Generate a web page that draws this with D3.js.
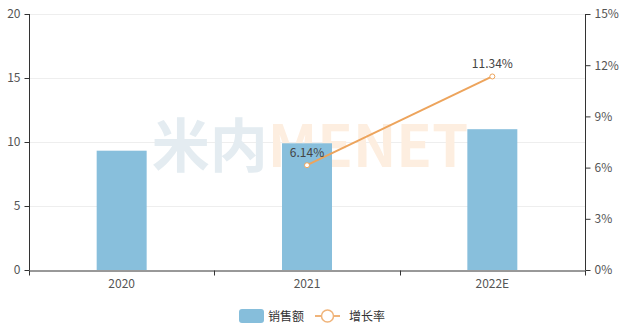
<!DOCTYPE html>
<html>
<head>
<meta charset="utf-8">
<script src="https://cdn.jsdelivr.net/npm/d3@7"></script>
<style>
  body { margin: 0; background: #fff; }
  text { font-family: "Noto Sans CJK SC", "Noto Sans", sans-serif; }
</style>
</head>
<body>
<div id="chart"></div>
<script>
// chart data
var years = ["2020", "2021", "2022E"];
var sales = [9.32, 9.9, 11.0];
var growth = [null, 6.14, 11.34];
var leftTicks = [0, 5, 10, 15, 20];
var rightTicks = [0, 3, 6, 9, 12, 15];

var width = 630, height = 333;
var margin = { top: 14, left: 29, right: 45, bottom: 63 };

var svg = d3.select("#chart").append("svg")
    .attr("width", width)
    .attr("height", height);

var x = d3.scaleBand()
    .domain(years)
    .range([margin.left, width - margin.right]);

var y = d3.scaleLinear()
    .domain([0, 20])
    .range([height - margin.bottom, margin.top]);

var y2 = d3.scaleLinear()
    .domain([0, 15])
    .range([height - margin.bottom, margin.top]);

// grid lines
svg.append("g")
    .selectAll("line")
    .data(leftTicks.filter(d => d > 0))
    .join("line")
    .attr("x1", margin.left)
    .attr("x2", width - margin.right)
    .attr("y1", d => Math.round(y(d)) + 0.5)
    .attr("y2", d => Math.round(y(d)) + 0.5)
    .attr("stroke", "#eeeeee");

// watermark
var wm = svg.append("text")
    .attr("x", 310)
    .attr("y", 167)
    .attr("text-anchor", "middle")
    .attr("font-size", "58px")
    .attr("font-weight", "bold");
wm.append("tspan").attr("fill", "#e4ecf1").text("米内");
wm.append("tspan").attr("fill", "#fdeee0").text("MENET");

// bars
var barW = 50;
svg.selectAll(".bar")
    .data(years)
    .join("rect")
    .attr("class", "bar")
    .attr("x", (d, i) => x(d) + x.bandwidth() / 2 - barW / 2)
    .attr("y", (d, i) => y(sales[i]))
    .attr("width", barW)
    .attr("height", (d, i) => y(0) - y(sales[i]))
    .attr("fill", "#86bedb")
    .attr("fill-opacity", 0.98);

// axes
var axisColor = "#333";
var gl = svg.append("g")
    .attr("transform", "translate(" + (margin.left + 0.5) + ",0)")
    .call(d3.axisLeft(y).tickValues(leftTicks).tickSize(5).tickPadding(4));
var gr = svg.append("g")
    .attr("transform", "translate(" + (width - margin.right + 0.5) + ",0)")
    .call(d3.axisRight(y2).tickValues(rightTicks).tickSize(5).tickPadding(4).tickFormat(d => d + "%"));
var gb = svg.append("g")
    .attr("transform", "translate(0," + (height - margin.bottom + 0.5) + ")")
    .call(d3.axisBottom(x).tickSize(0).tickPadding(9));

// x ticks at band boundaries
gb.selectAll(".bound")
    .data(d3.range(years.length + 1))
    .join("line")
    .attr("class", "bound")
    .attr("x1", i => Math.round(margin.left + i * x.step()) + 0.5)
    .attr("x2", i => Math.round(margin.left + i * x.step()) + 0.5)
    .attr("y1", 0)
    .attr("y2", 5)
    .attr("stroke", axisColor);

[gl, gr, gb].forEach(function (g) {
    g.select(".domain").attr("stroke", axisColor);
    g.selectAll(".tick line").attr("stroke", axisColor);
    g.selectAll(".tick text")
        .attr("fill", "#555")
        .style("font-size", "12px")
        .style("font-family", "'Noto Sans CJK SC', sans-serif");
});
gl.select(".domain").attr("d", "M0," + y(20) + "V" + y(0));
gr.select(".domain").attr("d", "M0," + y2(15) + "V" + y2(0));

// growth line
var lineData = years.map((d, i) => ({ year: d, v: growth[i] })).filter(d => d.v != null);
var line = d3.line()
    .x(d => x(d.year) + x.bandwidth() / 2)
    .y(d => y2(d.v));

svg.append("path")
    .datum(lineData)
    .attr("d", line)
    .attr("fill", "none")
    .attr("stroke", "#eda45c")
    .attr("stroke-width", 2);

svg.selectAll(".pt")
    .data(lineData)
    .join("circle")
    .attr("class", "pt")
    .attr("cx", d => x(d.year) + x.bandwidth() / 2)
    .attr("cy", d => y2(d.v))
    .attr("r", 2.5)
    .attr("fill", "#fff")
    .attr("stroke", "#eda45c")
    .attr("stroke-width", 1);

svg.selectAll(".lbl")
    .data(lineData)
    .join("text")
    .attr("class", "lbl")
    .attr("x", d => x(d.year) + x.bandwidth() / 2)
    .attr("y", d => y2(d.v) - 8)
    .attr("text-anchor", "middle")
    .attr("font-size", "12px")
    .attr("fill", "#444")
    .text(d => d.v.toFixed(2) + "%");

// legend
var lg = svg.append("g").attr("transform", "translate(239,309)");
lg.append("rect")
    .attr("width", 25).attr("height", 14).attr("rx", 3)
    .attr("fill", "#86bedb");
lg.append("text")
    .attr("x", 29).attr("y", 11.5)
    .attr("font-size", "12px").attr("fill", "#333")
    .text("销售额");
lg.append("line")
    .attr("x1", 76).attr("x2", 101).attr("y1", 7).attr("y2", 7)
    .attr("stroke", "#f0b47a").attr("stroke-width", 2);
lg.append("circle")
    .attr("cx", 88.5).attr("cy", 7).attr("r", 6)
    .attr("fill", "#fff").attr("stroke", "#f0b47a").attr("stroke-width", 1.5);
lg.append("text")
    .attr("x", 110).attr("y", 11.5)
    .attr("font-size", "12px").attr("fill", "#333")
    .text("增长率");
</script>
</body>
</html>
